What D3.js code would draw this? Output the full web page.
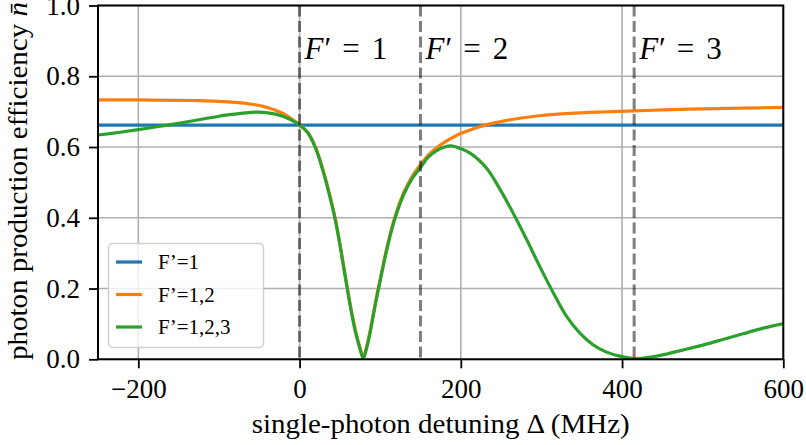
<!DOCTYPE html>
<html>
<head>
<meta charset="utf-8">
<script src="https://cdn.jsdelivr.net/npm/d3@7"></script>
<style>
  html, body { margin: 0; padding: 0; background: #fff; }
  svg { display: block; }
  text { font-family: "Liberation Serif", "Times New Roman", serif; fill: #000; }
</style>
</head>
<body>
<svg id="chart" width="806" height="445"></svg>
<script>
// Detuning axis (MHz) and efficiency axis ticks
const xTicks = [-200, 0, 200, 400, 600];
const yTicks = [0, 0.2, 0.4, 0.6, 0.8, 1.0];

// Hyperfine levels of the excited state, marked by dashed lines
const levelNumbers = ["1", "2", "3"];
const levelDetuning = [0, 150, 415];

// Series names
const seriesNames = ["F’=1", "F’=1,2", "F’=1,2,3"];

// F'=1 only: flat efficiency
const detuning1 = [-250, 600];
const eff1 = [0.662, 0.662];

// F'=1,2
const detuning12 = [-250, -200, -150, -125, -100, -80, -60, -45, -30, -20, -10, 0, 10, 20, 30, 40, 45, 50, 55, 60, 65, 70, 75, 79, 83, 87, 91, 95, 100, 105, 110, 115, 120, 125, 130, 140, 150, 160, 170, 180, 190, 200, 215, 230, 250, 275, 300, 335, 375, 415, 450, 500, 550, 600];
const eff12 = [0.733, 0.733, 0.732, 0.731, 0.729, 0.726, 0.721, 0.715, 0.704, 0.694, 0.680, 0.663, 0.642, 0.598, 0.528, 0.441, 0.390, 0.328, 0.260, 0.192, 0.129, 0.075, 0.033, 0.005, 0.034, 0.074, 0.122, 0.171, 0.226, 0.281, 0.331, 0.376, 0.414, 0.447, 0.475, 0.518, 0.550, 0.578, 0.598, 0.614, 0.627, 0.638, 0.651, 0.662, 0.672, 0.682, 0.689, 0.695, 0.699, 0.702, 0.705, 0.708, 0.710, 0.712];

// F'=1,2,3
const detuning123 = [-250, -225, -200, -175, -150, -125, -100, -80, -60, -45, -30, -20, -10, 0, 10, 20, 30, 40, 45, 50, 55, 60, 65, 70, 75, 79, 83, 87, 91, 95, 100, 105, 110, 115, 120, 125, 130, 140, 150, 160, 170, 180, 188, 199, 212, 232, 249, 265, 282, 298, 315, 331, 348, 364, 380, 397, 416, 435, 455, 475, 500, 525, 550, 575, 600];
const eff123 = [0.634, 0.641, 0.649, 0.658, 0.667, 0.677, 0.687, 0.693, 0.698, 0.698, 0.693, 0.686, 0.676, 0.662, 0.641, 0.596, 0.525, 0.437, 0.386, 0.324, 0.256, 0.188, 0.125, 0.071, 0.029, 0.003, 0.030, 0.070, 0.118, 0.167, 0.222, 0.277, 0.327, 0.372, 0.410, 0.442, 0.470, 0.512, 0.542, 0.572, 0.590, 0.600, 0.603, 0.596, 0.582, 0.540, 0.479, 0.413, 0.337, 0.262, 0.187, 0.122, 0.073, 0.041, 0.021, 0.009, 0.002, 0.006, 0.015, 0.026, 0.040, 0.056, 0.072, 0.088, 0.101];

const colors = ["#1f77b4", "#ff7f0e", "#2ca02c"];

const svg = d3.select("#chart");
const plot = { left: 98, right: 783.3, top: 5.5, bottom: 359.3 };

const x = d3.scaleLinear().domain([-250, 600]).range([plot.left, plot.right]);
const y = d3.scaleLinear().domain([0, 1]).range([plot.bottom, plot.top]);

const fmt = d => (d < 0 ? "\u2212" + Math.abs(d) : String(d));
const fmtY = d => d.toFixed(1);

// Grid
const grid = svg.append("g").attr("stroke", "#b0b0b0").attr("stroke-width", 1.6);
grid.selectAll("line.gx").data(xTicks).join("line")
  .attr("x1", d => x(d)).attr("x2", d => x(d))
  .attr("y1", plot.top).attr("y2", plot.bottom);
grid.selectAll("line.gy").data(yTicks).join("line")
  .attr("x1", plot.left).attr("x2", plot.right)
  .attr("y1", d => y(d)).attr("y2", d => y(d));

// Curves
svg.append("clipPath").attr("id", "plotclip").append("rect")
  .attr("x", plot.left).attr("y", plot.top)
  .attr("width", plot.right - plot.left).attr("height", plot.bottom - plot.top);

const line = d3.line().x(d => x(d[0])).y(d => y(Math.max(0, d[1])))
  .curve(d3.curveCatmullRom.alpha(0.5));
const series = [
  d3.zip(detuning1, eff1),
  d3.zip(detuning12, eff12),
  d3.zip(detuning123, eff123)
];
const curves = svg.append("g").attr("clip-path", "url(#plotclip)");
series.forEach((s, i) => {
  curves.append("path").datum(s)
    .attr("d", line)
    .attr("fill", "none")
    .attr("stroke", colors[i])
    .attr("stroke-width", 3.2)
    .attr("stroke-linejoin", "round");
});

// Hyperfine level markers
const levels = svg.append("g");
levels.selectAll("line").data(levelDetuning).join("line")
  .attr("x1", d => x(d)).attr("x2", d => x(d))
  .attr("y1", plot.top).attr("y2", plot.bottom)
  .attr("stroke", "#000").attr("stroke-opacity", 0.5)
  .attr("stroke-width", 3).attr("stroke-dasharray", "11,4.5");

levelDetuning.forEach((d, i) => {
  const t = levels.append("text")
    .attr("x", x(d) + 5).attr("y", y(0.85))
    .attr("font-size", 31);
  t.append("tspan").attr("font-style", "italic").text("F");
  t.append("tspan").attr("dx", 1).text("′");
  t.append("tspan").attr("dx", 11).text("=");
  t.append("tspan").attr("dx", 12).text(levelNumbers[i]);
});

// Axes
const xAxis = d3.axisBottom(x).tickValues(xTicks).tickFormat(fmt).tickSize(9).tickPadding(11);
const yAxis = d3.axisLeft(y).tickValues(yTicks).tickFormat(fmtY).tickSize(9).tickPadding(9);

const gx = svg.append("g").attr("transform", `translate(0,${plot.bottom})`).call(xAxis);
const gy = svg.append("g").attr("transform", `translate(${plot.left},0)`).call(yAxis);
[gx, gy].forEach(g => {
  g.select(".domain").remove();
  g.selectAll(".tick line").attr("stroke", "#000").attr("stroke-width", 1.8);
  g.selectAll(".tick text").attr("font-size", 27).attr("font-family", "Liberation Serif");
});

// Frame
svg.append("rect")
  .attr("x", plot.left).attr("y", plot.top)
  .attr("width", plot.right - plot.left).attr("height", plot.bottom - plot.top)
  .attr("fill", "none").attr("stroke", "#000").attr("stroke-width", 2);

// Axis titles
svg.append("text")
  .attr("x", (plot.left + plot.right) / 2).attr("y", 433)
  .attr("text-anchor", "middle").attr("font-size", 27)
  .attr("textLength", 378).attr("lengthAdjust", "spacingAndGlyphs")
  .text("single-photon detuning Δ (MHz)");

const yl = svg.append("text")
  .attr("transform", `translate(27,181) rotate(-90)`)
  .attr("text-anchor", "middle").attr("font-size", 27)
  .attr("textLength", 358).attr("lengthAdjust", "spacingAndGlyphs");
yl.append("tspan").text("photon production efficiency ");
yl.append("tspan").attr("font-style", "italic").text("n\u0304");

// Legend
const legend = svg.append("g");
legend.append("rect")
  .attr("x", 108.5).attr("y", 243.5).attr("width", 155).attr("height", 104)
  .attr("rx", 4).attr("fill", "#fff").attr("fill-opacity", 0.8)
  .attr("stroke", "#d0d0d0").attr("stroke-width", 1.5);
seriesNames.forEach((name, i) => {
  const ly = 262 + i * 32.5;
  legend.append("line")
    .attr("x1", 116).attr("x2", 142).attr("y1", ly).attr("y2", ly)
    .attr("stroke", colors[i]).attr("stroke-width", 3.2);
  legend.append("text")
    .attr("x", 158).attr("y", ly).attr("dy", "0.35em")
    .attr("font-size", 21).text(name);
});
</script>
</body>
</html>
